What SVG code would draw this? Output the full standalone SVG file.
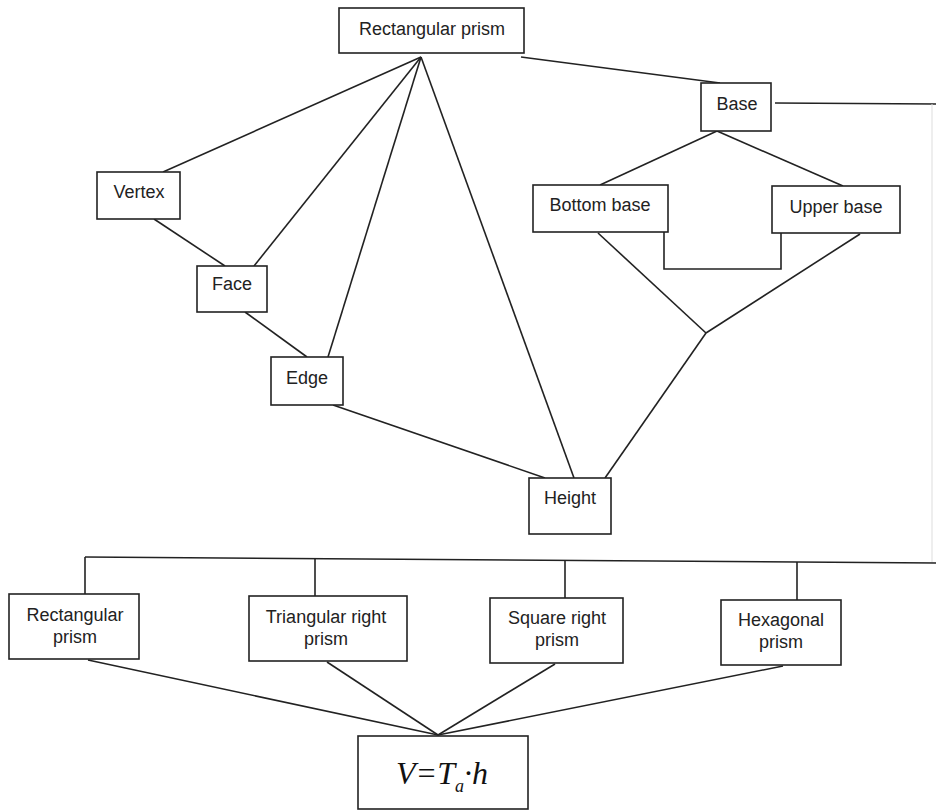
<svg xmlns="http://www.w3.org/2000/svg" width="936" height="812" viewBox="0 0 936 812">
<style>
.box{fill:#fff;stroke:#222;stroke-width:1.6}
.t{font-family:"Liberation Sans",Arial,sans-serif;font-size:18px;fill:#222;text-anchor:middle}
.c{fill:none;stroke:#222;stroke-width:1.6}
.f{font-family:"Liberation Serif","Times New Roman",serif;font-style:italic;fill:#111}
</style>
<rect width="936" height="812" fill="#fff"/>
<g id="connectors">
<line class="c" x1="421" y1="57" x2="163" y2="172"/>
<line class="c" x1="421" y1="57" x2="254" y2="266"/>
<line class="c" x1="421" y1="57" x2="328" y2="357"/>
<line class="c" x1="421" y1="57" x2="574" y2="478"/>
<line class="c" x1="521" y1="57" x2="720" y2="83"/>
<line class="c" x1="154" y1="219" x2="225" y2="266"/>
<line class="c" x1="245" y1="312" x2="307" y2="357"/>
<line class="c" x1="333" y1="405" x2="545" y2="478"/>
<line class="c" x1="775" y1="103" x2="936" y2="104"/>
<line x1="932" y1="104" x2="932" y2="562" stroke="#ddd" stroke-width="1"/>
<line class="c" x1="717" y1="131" x2="600" y2="185"/>
<line class="c" x1="717" y1="131" x2="843" y2="186"/>
<polyline class="c" points="664,232 664,269 781,269 781,233"/>
<line class="c" x1="598" y1="233" x2="706" y2="333"/>
<line class="c" x1="860" y1="234" x2="706" y2="333"/>
<line class="c" x1="706" y1="333" x2="605" y2="478"/>
<line class="c" x1="85" y1="557" x2="936" y2="563"/>
<line class="c" x1="85" y1="557" x2="85" y2="594"/>
<line class="c" x1="315" y1="559" x2="315" y2="596"/>
<line class="c" x1="565" y1="561" x2="565" y2="598"/>
<line class="c" x1="797" y1="562" x2="797" y2="600"/>
<line class="c" x1="88" y1="660" x2="438" y2="735"/>
<line class="c" x1="327" y1="662" x2="438" y2="735"/>
<line class="c" x1="555" y1="664" x2="438" y2="735"/>
<line class="c" x1="783" y1="666" x2="438" y2="735"/>
</g>
<g id="rect-prism-top"><rect class="box" x="339" y="8" width="185" height="45"/><text class="t" x="432" y="35">Rectangular prism</text></g>
<g id="base"><rect class="box" x="701" y="83" width="70" height="48"/><text class="t" x="737" y="110">Base</text></g>
<g id="vertex"><rect class="box" x="97" y="172" width="83" height="47"/><text class="t" x="139" y="198">Vertex</text></g>
<g id="face"><rect class="box" x="197" y="266" width="70" height="46"/><text class="t" x="232" y="290">Face</text></g>
<g id="edge"><rect class="box" x="271" y="357" width="72" height="48"/><text class="t" x="307" y="384">Edge</text></g>
<g id="bottom-base"><rect class="box" x="533" y="185" width="135" height="47"/><text class="t" x="600" y="211">Bottom base</text></g>
<g id="upper-base"><rect class="box" x="772" y="186" width="128" height="47"/><text class="t" x="836" y="213">Upper base</text></g>
<g id="height"><rect class="box" x="529" y="478" width="82" height="56"/><text class="t" x="570" y="504">Height</text></g>
<g id="rect-prism"><rect class="box" x="9" y="594" width="130" height="65"/><text class="t" x="75" y="621">Rectangular</text><text class="t" x="75" y="643">prism</text></g>
<g id="tri-prism"><rect class="box" x="249" y="596" width="158" height="65"/><text class="t" x="326" y="623">Triangular right</text><text class="t" x="326" y="645">prism</text></g>
<g id="sq-prism"><rect class="box" x="490" y="598" width="133" height="65"/><text class="t" x="557" y="624">Square right</text><text class="t" x="557" y="646">prism</text></g>
<g id="hex-prism"><rect class="box" x="721" y="600" width="120" height="65"/><text class="t" x="781" y="626">Hexagonal</text><text class="t" x="781" y="648">prism</text></g>
<g id="formula"><rect class="box" x="358" y="736" width="170" height="73"/><text class="f" x="442" y="784" font-size="32" text-anchor="middle">V=T<tspan font-size="18" dy="8">a</tspan><tspan dy="-8">·h</tspan></text></g>
</svg>
